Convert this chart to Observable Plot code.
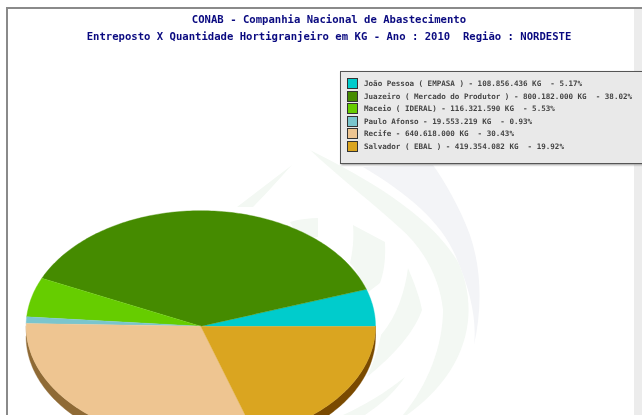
<!DOCTYPE html>
<html><head><meta charset="utf-8">
<script src="https://cdn.jsdelivr.net/npm/d3@7"></script>
<script src="https://cdn.jsdelivr.net/npm/@observablehq/plot@0.6"></script>
<style>
html,body{margin:0;padding:0;background:#fff;width:642px;height:415px;overflow:hidden}
#page{position:relative;width:642px;height:415px;overflow:hidden;font-family:"DejaVu Sans Mono",monospace}
#wm,#chart{position:absolute;left:0;top:0;width:642px;height:415px;background:transparent}
#chart svg{display:block;max-width:none;width:642px;height:415px}
#strip{position:absolute;left:634px;top:8px;width:8px;height:407px;background:#ececec}
#ftop{position:absolute;left:6px;top:7px;width:636px;height:2px;background:#8a8a8a}
#fleft{position:absolute;left:6px;top:7px;width:2px;height:408px;background:#8a8a8a}
.t{position:absolute;left:0;width:658px;text-align:center;color:#0a0a80;font-weight:bold;font-size:10.6px;white-space:pre;filter:blur(.4px)}
#legend{position:absolute;left:340px;top:71px;width:320px;height:91px;background:#e9e9e9;border:1.5px solid #555;box-shadow:1px 1px 2px #999}
.row{position:absolute;left:6px;height:11px;white-space:pre;color:#444;font-size:7.55px;line-height:11px;font-weight:bold}
.sw{position:absolute;left:0;top:0;width:9px;height:9px;border:1px solid #333}
.lb{position:absolute;left:17px;top:0;filter:blur(.4px)}
</style></head><body>
<div id="page">
<svg id="wm" width="642" height="415">
<path fill="#f3f4f7" d="M363 167 C410 195 445 225 458 262 C470 290 477 320 474 345 C482 310 482 270 470 235 C460 208 445 182 433 165 Z"/>
<g fill="#f3f8f3">
<path d="M310 150 C370 180 430 215 458 262 C480 310 470 370 407 415 L403 415 C428 385 443 345 443 310 C440 280 425 250 400 228 C375 205 340 178 310 150 Z"/>
<path d="M408 268 C415 285 420 298 422 310 C415 330 397 353 367 377 C372 365 378 350 381 335 C398 315 405 290 408 268 Z"/>
<path d="M353 225 L385 242 C386 262 383 275 380 283 L367 293 C362 280 355 268 350 263 C353 250 354 238 353 225 Z"/>
<path d="M290 222 C300 219 310 218 318 218 L318 237 L300 240 Z"/>
<path d="M292 165 L237 207 L253 207 C268 192 280 178 292 165 Z"/>
<path d="M405 377 C385 393 365 405 343 415 L365 415 C380 405 395 392 405 377 Z"/>
</g>
</svg>
<div id="strip"></div>
<div id="ftop"></div><div id="fleft"></div>
<div id="chart"></div>
<div class="t" style="top:13px">CONAB - Companhia Nacional de Abastecimento</div>
<div class="t" style="top:30px">Entreposto X Quantidade Hortigranjeiro em KG - Ano : 2010  Região : NORDESTE</div>
<div id="legend"></div>
</div>
<script>
const names = ["João Pessoa ( EMPASA )", "Juazeiro ( Mercado do Produtor )", "Maceio ( IDERAL)", "Paulo Afonso", "Recife", "Salvador ( EBAL )"];
const kgLabels = ["108.856.436", "800.182.000", "116.321.590", "19.553.219", "640.618.000", "419.354.082"];
const pctLabels = ["5.17", "38.02", "5.53", "0.93", "30.43", "19.92"];
const values = [108856436, 800182000, 116321590, 19553219, 640618000, 419354082];
const colors = ["#00cccc", "#458b00", "#66cd00", "#7ac5cd", "#eec591", "#daa520"];
const sideColors = ["#007a7a", "#2a5400", "#3d7b00", "#4a767b", "#8f6a35", "#7a4a00"];

const depth = 0.088;
const step = Math.PI / 180;
const arcs = d3.pie().sort(null).startAngle(0).endAngle(2 * Math.PI)(values);
function angles(a0, a1) {
  const out = [];
  const n = Math.max(2, Math.ceil((a1 - a0) / step));
  for (let i = 0; i <= n; i++) out.push(a0 + (a1 - a0) * i / n);
  return out;
}
const topPts = [], sidePts = [];
arcs.forEach((a, i) => {
  topPts.push({k: i, c: colors[i], x: 0, y: 0});
  for (const t of angles(a.startAngle, a.endAngle)) topPts.push({k: i, c: colors[i], x: Math.cos(t), y: Math.sin(t)});
  const s0 = Math.max(a.startAngle, Math.PI), s1 = a.endAngle;
  if (s1 > s0) {
    const as = angles(s0, s1);
    for (const t of as) sidePts.push({k: i, c: sideColors[i], x: Math.cos(t), y: Math.sin(t)});
    for (const t of as.slice().reverse()) sidePts.push({k: i, c: sideColors[i], x: Math.cos(t), y: Math.sin(t) - depth});
  }
});
const opts = {x: "x", y: "y", z: "k", fill: "c", stroke: "c", strokeWidth: 0.4, curve: "linear"};
const plot = Plot.plot({
  width: 642, height: 415, margin: 0,
  style: {background: "transparent", overflow: "hidden"},
  x: {domain: [-1, 1], range: [25.6, 375], axis: null},
  y: {domain: [-1, 1], range: [441.2, 210.2], axis: null},
  marks: [Plot.line(sidePts, opts), Plot.line(topPts, opts)]
});
document.getElementById("chart").append(plot);

const legend = document.getElementById("legend");
const rowTops = [6, 19, 31, 44, 56, 69];
names.forEach((n, i) => {
  const r = document.createElement("div");
  r.className = "row";
  r.style.top = rowTops[i] + "px";
  const sw = document.createElement("div");
  sw.className = "sw";
  sw.style.background = colors[i];
  const lb = document.createElement("div");
  lb.className = "lb";
  lb.textContent = `${n} - ${kgLabels[i]} KG  - ${pctLabels[i]}%`;
  r.append(sw, lb);
  legend.append(r);
});
</script>
</body></html>
